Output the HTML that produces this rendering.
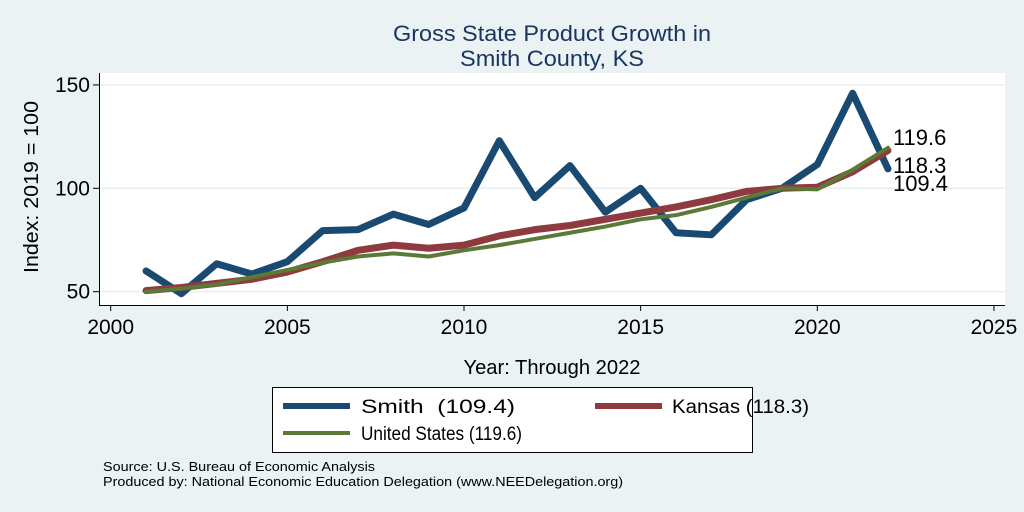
<!DOCTYPE html>
<html><head><meta charset="utf-8"><style>
body{margin:0;background:#eaf2f3;}
svg{display:block;font-family:"Liberation Sans",sans-serif;}
</style></head><body>
<svg width="1024" height="512">
<rect width="1024" height="512" fill="#eaf2f3"/>
<text x="552" y="41" font-size="22" fill="#1a3560" text-anchor="middle" textLength="318" lengthAdjust="spacingAndGlyphs">Gross State Product Growth in</text>
<text x="552" y="66" font-size="22" fill="#1a3560" text-anchor="middle" textLength="184" lengthAdjust="spacingAndGlyphs">Smith County, KS</text>
<rect x="99" y="73" width="906" height="232" fill="#fff"/>
<g id="grid"></g><g id="axes"></g><g id="lines"></g><g id="labels"></g>
<text x="552" y="374" font-size="20" text-anchor="middle" textLength="177" lengthAdjust="spacingAndGlyphs">Year: Through 2022</text>
<text transform="translate(38,187) rotate(-90)" font-size="20" text-anchor="middle" textLength="172" lengthAdjust="spacingAndGlyphs">Index: 2019 = 100</text>
<g>
<rect x="272.5" y="387.5" width="480" height="65" fill="#fff" stroke="#000"/>
<line x1="283" y1="406" x2="350" y2="406" stroke="#1a4a72" stroke-width="6"/>
<text x="361" y="413" font-size="19" textLength="154" lengthAdjust="spacingAndGlyphs">Smith&#160; (109.4)</text>
<line x1="595" y1="406" x2="662" y2="406" stroke="#8f3a3f" stroke-width="6"/>
<text x="672" y="413" font-size="19" textLength="137" lengthAdjust="spacingAndGlyphs">Kansas (118.3)</text>
<line x1="283" y1="433" x2="350" y2="433" stroke="#5a7a35" stroke-width="4"/>
<text x="361" y="440" font-size="19" textLength="161" lengthAdjust="spacingAndGlyphs">United States (119.6)</text>
</g>
<text x="103" y="471" font-size="13" textLength="272" lengthAdjust="spacingAndGlyphs">Source: U.S. Bureau of Economic Analysis</text>
<text x="103" y="486" font-size="13" textLength="520" lengthAdjust="spacingAndGlyphs">Produced by: National Economic Education Delegation (www.NEEDelegation.org)</text>
</svg>
<script>
const years=[2001,2002,2003,2004,2005,2006,2007,2008,2009,2010,2011,2012,2013,2014,2015,2016,2017,2018,2019,2020,2021,2022];
const smith=[60,49,63.5,58.5,64.5,79.5,80,87.5,82.5,90.5,123,95.5,111,88.5,100,78.5,77.5,94.5,100,111.5,146,109.4];
const kansas=[50.5,52,54,56,59.5,64.5,70,72.5,71,72.5,77,80,82,85,88,91,94.5,98.5,100,100.5,108,118.3];
const us=[50,51.5,53.5,57,60.5,64,67,68.5,67,70,72.5,75.5,78.5,81.5,85,87,91,95.5,100,99.5,109,119.6];
const xTicks=[2000,2005,2010,2015,2020,2025];
const yTicks=[50,100,150];
const X=v=>110.7+(v-2000)*35.33;
const Y=v=>188.3-(v-100)*2.067;
const NS='http://www.w3.org/2000/svg';
function mk(t,a,p){const e=document.createElementNS(NS,t);for(const k in a)e.setAttribute(k,a[k]);p.appendChild(e);return e;}
const grid=document.getElementById('grid'),axes=document.getElementById('axes'),lines=document.getElementById('lines'),labels=document.getElementById('labels');
yTicks.forEach(v=>{
 const g=mk('line',{x1:99,x2:1005,y1:Y(v),y2:Y(v),stroke:'#e6eef2','stroke-width':1.5},grid);
 
 
 const t=mk('line',{x1:93,x2:99,y1:Y(v),y2:Y(v),stroke:'#000'},axes);
 
 
 const l=mk('text',{x:90,y:Y(v)+7,'font-size':21,'text-anchor':'end'},axes);l.textContent=v;
 
 
});
xTicks.forEach(v=>{
 const t=mk('line',{x1:X(v),x2:X(v),y1:305,y2:311,stroke:'#000'},axes);
 
 
 const l=mk('text',{x:X(v),y:334,'font-size':21,'text-anchor':'middle'},axes);l.textContent=v;
 
 
});
const ya=mk('line',{x1:99.5,x2:99.5,y1:73,y2:305,stroke:'#000'},axes);


const xa=mk('line',{x1:99,x2:1005,y1:305.5,y2:305.5,stroke:'#000'},axes);


function series(vals,col,w,name){
 const p=mk('polyline',{points:vals.map((v,i)=>X(years[i])+','+Y(v)).join(' '),fill:'none',stroke:col,'stroke-width':w,'stroke-linejoin':'round','stroke-linecap':'round'},lines);
 
 
}
series(smith,'#1a4a72',7,'line-smith');
series(kansas,'#8f3a3f',7,'line-kansas');
series(us,'#5a7a35',4,'line-us');
const ends=[['119.6',145],['118.3',173],['109.4',191]];
const lx=X(years[years.length-1])+5;
ends.forEach(([txt,by],i)=>{
 const l=mk('text',{x:lx,y:by,'font-size':22},labels);l.textContent=txt;
 
 
});
</script>
</body></html>
